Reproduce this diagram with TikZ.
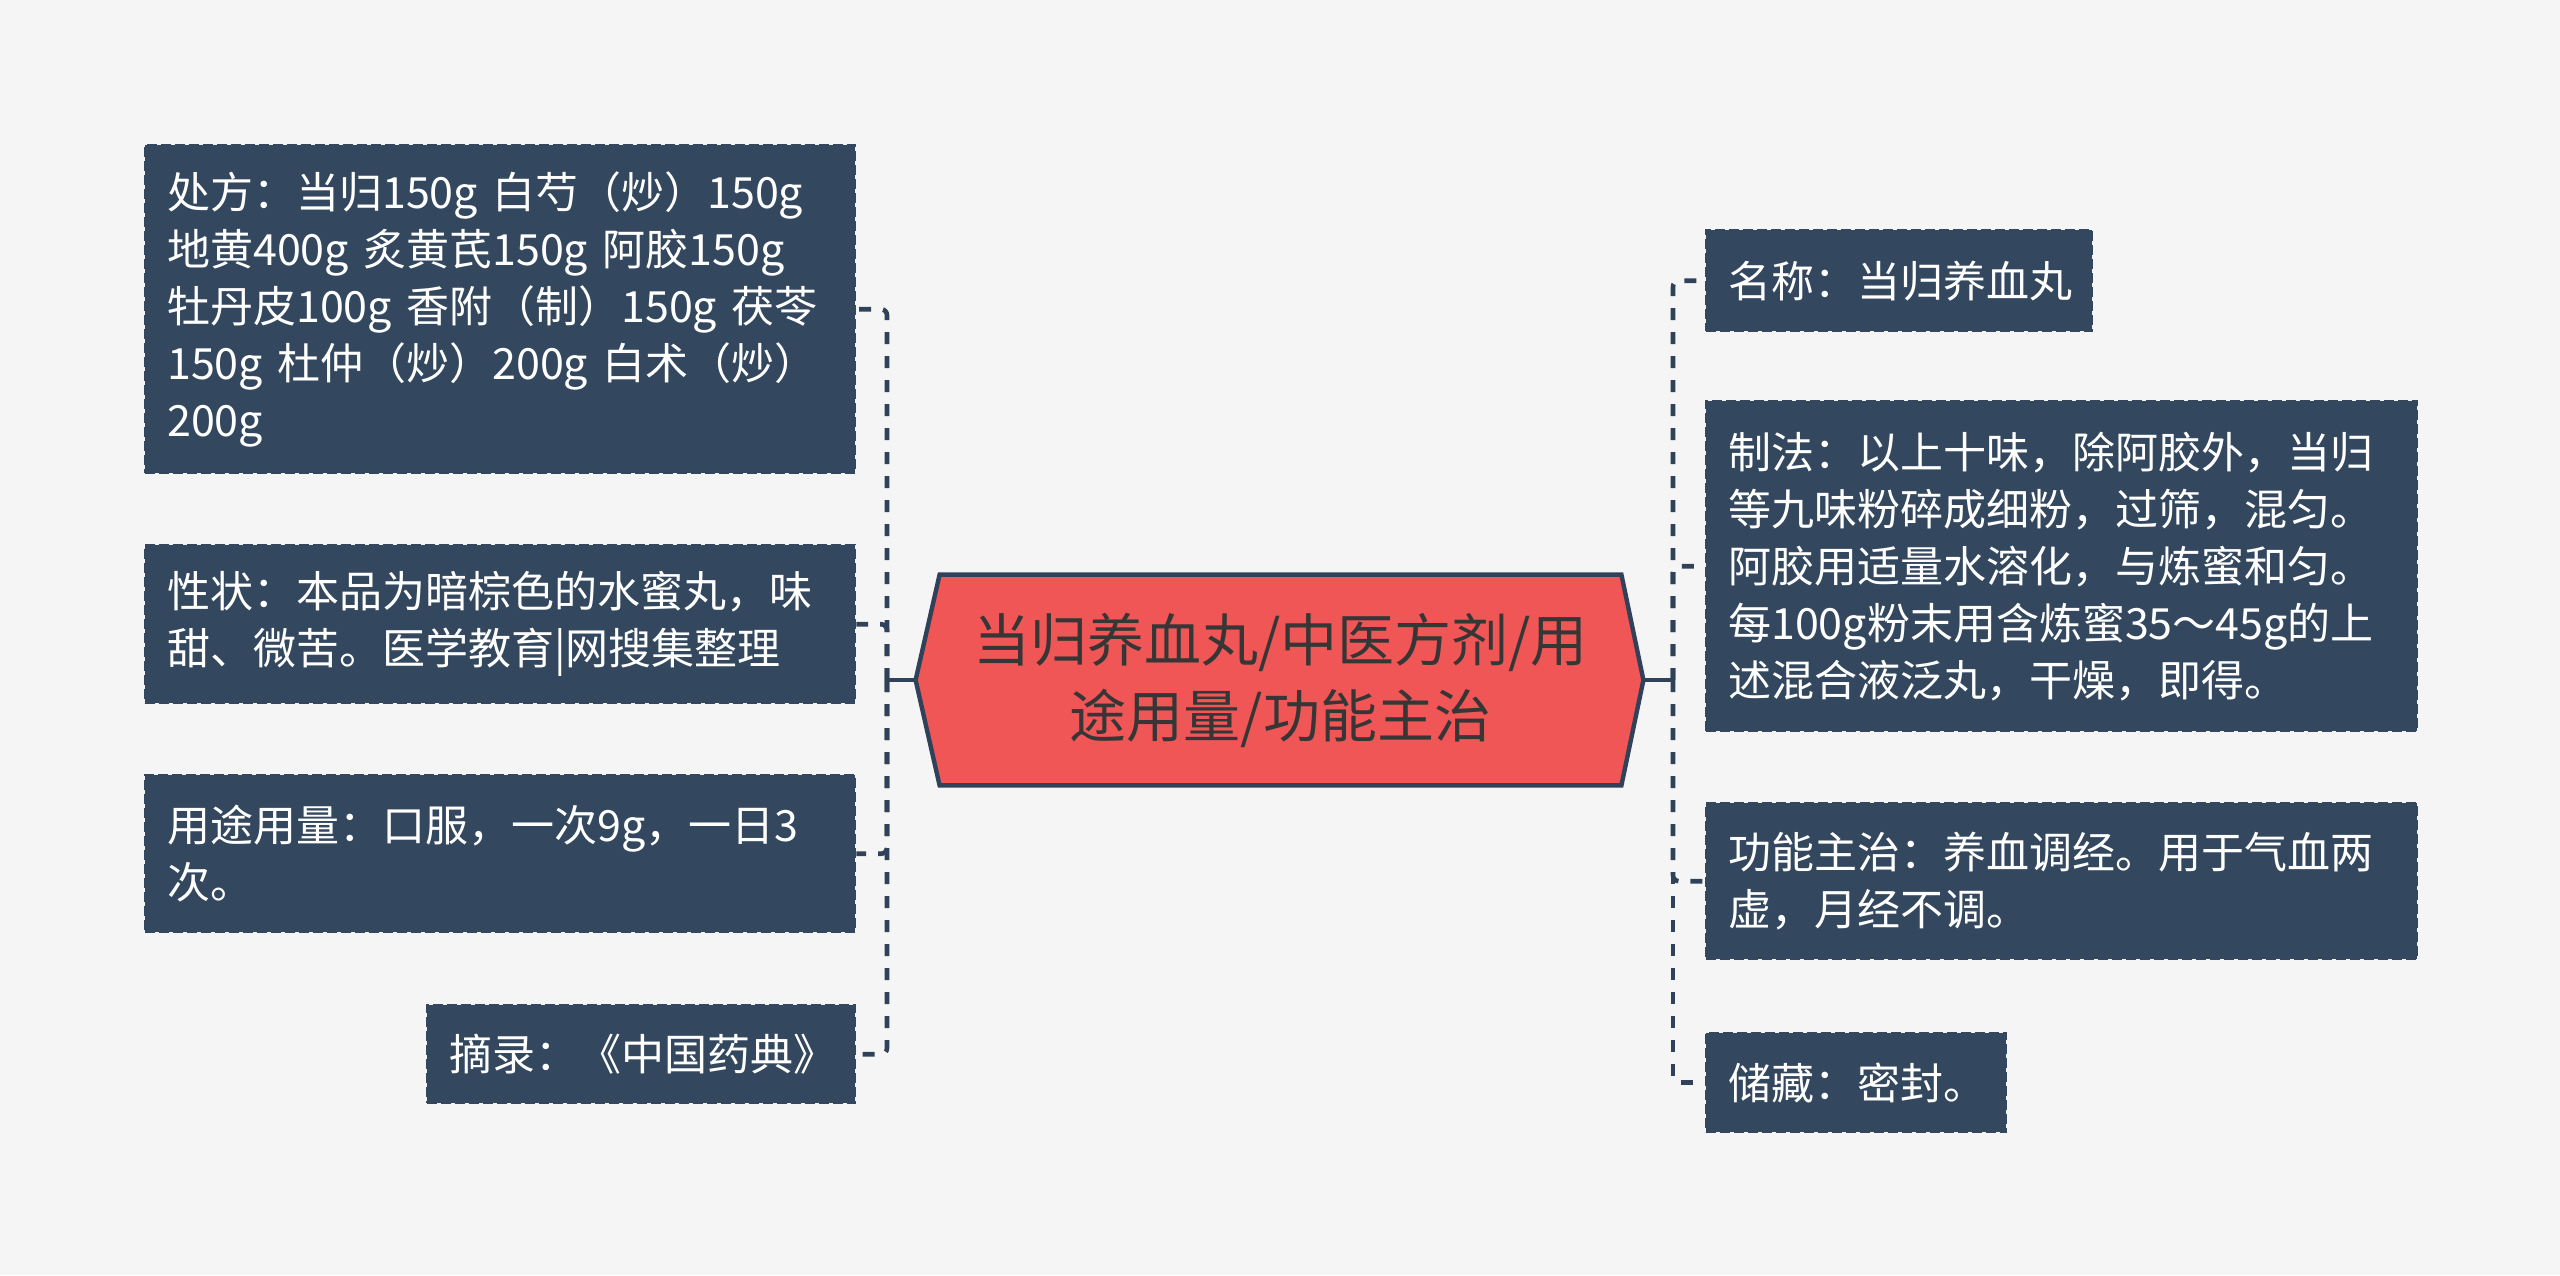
\documentclass[tikz,border=0pt]{standalone}
\usepackage{fontspec}
\setmainfont{Noto Sans CJK SC}
\definecolor{bgc}{HTML}{F5F5F5}
\definecolor{boxc}{HTML}{33485E}
\definecolor{linec}{HTML}{2F4259}
\definecolor{hubred}{HTML}{F05656}
\definecolor{hubtext}{HTML}{363636}
\pgfdeclarelayer{back}
\pgfdeclarelayer{mid}
\pgfsetlayers{back,mid,main}
\tikzset{
  leaf/.style={rectangle, anchor=north west, fill=boxc, draw=boxc, line width=1.2pt,
    dash pattern=on 5pt off 2pt, inner xsep=11pt, inner ysep=6pt, align=left,
    text=white, font=\fontsize{21.5}{28.5}\selectfont},
  hub/.style={rectangle, minimum width=340.5pt, minimum height=105pt, align=center,
    text=hubtext, font=\fontsize{28.5}{38}\selectfont},
  hexline/.style={fill=hubred, draw=linec, line width=2.2pt, line join=miter},
  trunk/.style={draw=linec, line width=2.3pt},
  branch/.style={draw=linec, line width=2.3pt, dash pattern=on 6pt off 6pt, rounded corners=3pt}
}
\begin{document}
\begin{tikzpicture}[x=0.5pt,y=-0.5pt]
\begin{pgfonlayer}{back}
\fill[bgc] (0,0) rectangle (2560,1275);
\end{pgfonlayer}
\useasboundingbox (0,0) rectangle (2560,1275);

% center
\node[hub] (c) at (1280.5,680) {当归养血丸/中医方剂/用\\途用量/功能主治};
\begin{pgfonlayer}{mid}
\draw[hexline] ([xshift=-12pt]c.west) -- (c.north west) -- (c.north east) -- ([xshift=11pt]c.east) -- (c.south east) -- (c.south west) -- cycle;
\end{pgfonlayer}
\coordinate (cl) at ([xshift=-12pt]c.west);
\coordinate (cr) at ([xshift=11pt]c.east);
\coordinate (jl) at (887,680);
\coordinate (jr) at (1673,680);

% left boxes
\node[leaf, text width=333pt, minimum height=164pt] (l1) at (144,144)
  {处方：当归150g 白芍（炒）150g\\地黄400g 炙黄芪150g 阿胶150g\\牡丹皮100g 香附（制）150g 茯苓\\150g 杜仲（炒）200g 白术（炒）\\200g};
\node[leaf, text width=333pt, minimum height=79pt] (l2) at (144,544)
  {性状：本品为暗棕色的水蜜丸，味\\甜、微苦。医学教育|网搜集整理};
\node[leaf, text width=333pt, minimum height=78.5pt] (l3) at (144,774)
  {用途用量：口服，一次9g，一日3\\次。};
\node[leaf, text width=192pt, minimum height=49pt] (l4) at (426,1004)
  {摘录：《中国药典》};

% right boxes
\node[leaf, text width=171pt, minimum height=50.5pt] (r1) at (1705,229)
  {名称：当归养血丸};
\node[leaf, text width=333.5pt, minimum height=165pt] (r2) at (1705,400)
  {制法：以上十味，除阿胶外，当归\\等九味粉碎成细粉，过筛，混匀。\\阿胶用适量水溶化，与炼蜜和匀。\\每100g粉末用含炼蜜35～45g的上\\述混合液泛丸，干燥，即得。};
\node[leaf, text width=333.5pt, minimum height=78pt] (r3) at (1705,802)
  {功能主治：养血调经。用于气血两\\虚，月经不调。};
\node[leaf, text width=128pt, minimum height=49.5pt] (r4) at (1705,1032)
  {储藏：密封。};

% connectors
\draw[trunk] (cl) -- (jl);
\draw[trunk] (cr) -- (jr);
\draw[branch] (jl) |- (l1.east);
\draw[branch] (jl) |- (l2.east);
\draw[branch] (jl) |- (l3.east);
\draw[branch] (jl) |- (l4.east);
\draw[branch] (jr) |- (r1.west);
\draw[branch] (jr) |- (r2.west);
\draw[branch] (jr) |- (r3.west);
\draw[branch] (jr) |- (r4.west);
\end{tikzpicture}
\end{document}
